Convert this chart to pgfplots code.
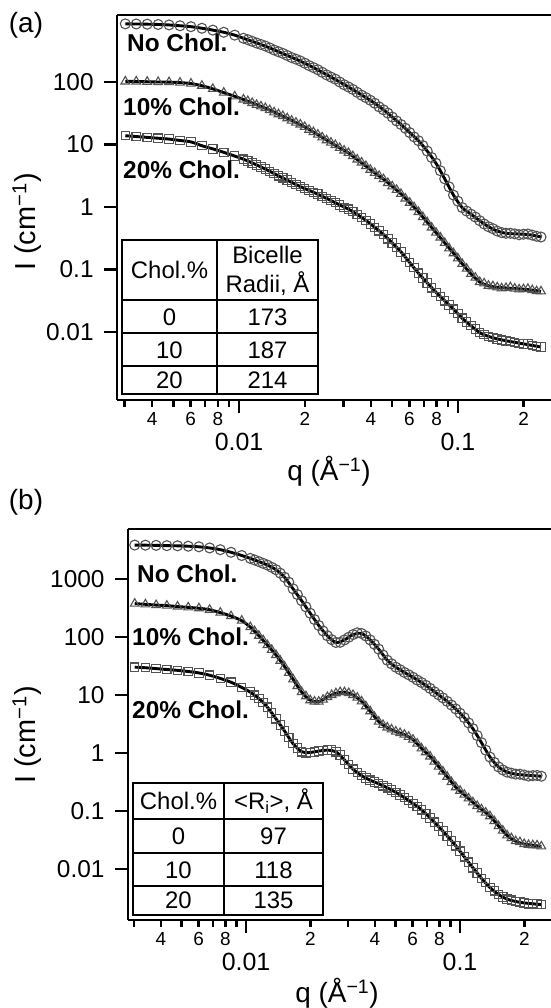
\documentclass[border=0pt]{standalone}
\usepackage{pgfplots}
\pgfplotsset{compat=1.18}
\usepackage{pgfplotstable}
\usepackage{fontspec}
\setmainfont{Liberation Sans}

% panel (a): fitted curves and data
\pgfplotstableread{
q a0 a10 a20
0.003020 851 102 13.8
0.003388 847 102 13.4
0.003802 841 101 13.0
0.004266 832 100 12.6
0.004786 818 99.5 12.2
0.005370 794 97.7 11.6
0.006026 767 94.4 11.0
0.006761 724 87.1 9.55
0.007586 676 77.6 8.51
0.008511 624 67.6 7.50
0.009550 562 58.9 6.53
0.010471 501 52.5 5.82
0.011482 447 46.2 5.07
0.012589 398 40.7 4.37
0.013804 351 35.5 3.72
0.015136 305 30.5 3.16
0.016596 266 26.3 2.69
0.018197 232 22.4 2.29
0.019953 200 19.1 1.97
0.021878 170 15.8 1.72
0.023988 143 13.0 1.48
0.026303 120 10.7 1.27
0.028840 100 8.81 1.08
0.031623 83.2 7.33 0.923
0.034674 68.4 5.75 0.759
0.038019 56.2 4.52 0.610
0.041687 45.7 3.51 0.473
0.045709 35.9 2.79 0.363
0.050119 27.5 2.14 0.266
0.054954 20.9 1.62 0.191
0.060256 15.5 1.17 0.129
0.066069 11.5 0.832 0.0871
0.072444 7.85 0.569 0.0610
0.079433 5.01 0.389 0.0432
0.087096 2.82 0.266 0.0316
0.095499 1.55 0.182 0.0232
0.10471 0.977 0.123 0.0166
0.11482 0.767 0.0851 0.0126
0.12589 0.603 0.0631 0.00977
0.13804 0.484 0.0550 0.00851
0.15136 0.412 0.0519 0.00776
0.16596 0.380 0.0507 0.00724
0.18197 0.372 0.0495 0.00684
0.19953 0.367 0.0484 0.00646
0.21878 0.355 0.0468 0.00610
0.23988 0.331 0.0447 0.00575
}\tabA

% panel (a): further data points
\pgfplotstableread{
q c0 c10 c20
0.010965 475 49.5 5.45
0.012023 420 43 4.68
0.013183 376 38.3 4.05
0.014454 325 32.7 3.41
0.015849 287 28.5 2.93
0.017378 246 24.1 2.47
0.019055 217 20.9 2.13
0.020893 183 17.2 1.83
0.022909 157 14.4 1.61
0.025119 130 11.7 1.36
0.027542 111 9.8 1.18
0.030200 90.5 8.0 0.99
0.033113 76 6.5 0.84
0.036308 61.5 5.15 0.68
0.039811 51 3.95 0.535
0.043652 40 3.15 0.416
0.047863 31.8 2.42 0.31
0.052481 23.8 1.88 0.226
0.057544 18.2 1.37 0.156
0.063096 13.2 0.99 0.107
0.069183 9.6 0.69 0.073
0.075858 6.2 0.47 0.051
0.083176 3.8 0.325 0.037
0.091201 2.1 0.218 0.027
0.1 1.24 0.151 0.0197
0.10965 0.86 0.103 0.0144
0.12023 0.69 0.074 0.0112
0.13183 0.535 0.060 0.0091
0.14454 0.45 0.054 0.0082
0.15849 0.39 0.050 0.0074
0.17378 0.38 0.052 0.0071
0.19055 0.36 0.048 0.0066
0.20893 0.37 0.049 0.0064
0.22909 0.34 0.045 0.0059
}\tabAm

% panel (b): fitted curves and data
\pgfplotstableread{
q b0 b10 b20
0.003020 3846 376 30.2
0.003388 3828 366 29.5
0.003802 3802 355 28.5
0.004266 3758 347 27.5
0.004786 3733 335 26.6
0.005370 3673 324 25.4
0.006026 3589 313 24.0
0.006761 3428 295 21.9
0.007586 3199 263 19.3
0.008511 2884 229 16.6
0.009550 2541 191 13.5
0.010471 2265 148 11.2
0.011482 1995 105 8.71
0.012589 1738 72.4 6.17
0.013804 1445 49.0 3.89
0.015136 1072 30.9 2.40
0.016596 676 18.6 1.45
0.018197 422 11.2 1.05
0.019953 257 8.13 1.02
0.021878 158 7.67 1.08
0.023988 105 9.23 1.12
0.026303 80.4 10.7 1.05
0.028840 89.1 11.2 0.759
0.031623 110 10.0 0.525
0.034674 115 7.76 0.407
0.038019 89.1 5.25 0.339
0.041687 61.7 3.47 0.295
0.045709 39.8 2.75 0.251
0.050119 30.2 2.34 0.209
0.054954 24.5 2.07 0.170
0.060256 20.2 1.70 0.135
0.066069 16.4 1.20 0.105
0.072444 13.0 0.871 0.0759
0.079433 10.1 0.582 0.0537
0.087096 7.76 0.389 0.0372
0.095499 5.75 0.257 0.0251
0.10471 4.07 0.191 0.0162
0.11482 2.63 0.141 0.0105
0.12589 1.51 0.107 0.00692
0.13804 0.851 0.0813 0.00479
0.15136 0.575 0.0550 0.00363
0.16596 0.468 0.0380 0.00302
0.18197 0.432 0.0302 0.00275
0.19953 0.417 0.0269 0.00260
0.21878 0.407 0.0257 0.00251
0.23988 0.398 0.0245 0.00243
}\tabB

% panel (b): further data points
\pgfplotstableread{
q d0 d10 d20
0.010965 2130 126 9.9
0.012023 1860 88 7.4
0.013183 1590 60 4.9
0.014454 1260 39 3.05
0.015849 880 24 1.85
0.017378 540 14.3 1.22
0.019055 330 9.5 1.00
0.020893 200 7.7 1.04
0.022909 127 8.3 1.11
0.025119 90 10.0 1.12
0.027542 81 11.2 0.92
0.030200 99 10.8 0.63
0.033113 118 9.0 0.46
0.036308 104 6.4 0.37
0.039811 75 4.2 0.318
0.043652 49 3.05 0.272
0.047863 34.5 2.55 0.23
0.052481 27.3 2.21 0.188
0.057544 22.3 1.90 0.152
0.063096 18.1 1.45 0.119
0.069183 14.7 1.03 0.089
0.075858 11.4 0.71 0.064
0.083176 8.9 0.48 0.045
0.091201 6.7 0.315 0.0305
0.1 4.85 0.223 0.0203
0.10965 3.3 0.165 0.0131
0.12023 2.0 0.122 0.0085
0.13183 1.12 0.094 0.0058
0.14454 0.69 0.067 0.0042
0.15849 0.51 0.046 0.0033
0.17378 0.45 0.034 0.0029
0.19055 0.43 0.029 0.0027
0.20893 0.40 0.026 0.0025
0.22909 0.41 0.0255 0.0025
}\tabBm

\newcommand\fyt{\fontsize{24.5}{26}\selectfont}
\newcommand\fxt{\fontsize{25}{27}\selectfont}
\newcommand\fmn{\fontsize{19}{20}\selectfont}
\newcommand\flab{\fontsize{28}{30}\selectfont}
\newcommand\fylab{\fontsize{29}{31}\selectfont}
\newcommand\fcur{\fontsize{24.5}{26}\selectfont\bfseries}
\newcommand\ftab{\fontsize{24}{26}\selectfont}

\pgfplotsset{
  mypanel/.style={
    scale only axis,
    axis x line*=box, axis y line*=left,
    tick pos=left,
    axis line style={-, line width=2.6bp, black},
    tick align=outside,
    major tick length=13bp, minor tick length=7bp,
    tick style={line width=2.6bp, black},
    yminorticks=false,
    xtick={0.01,0.1}, xticklabels={0.01,0.1},
    minor xtick={0.003,0.004,0.005,0.006,0.007,0.008,0.009,0.02,0.03,0.04,0.05,0.06,0.07,0.08,0.09,0.2},
    xticklabel style={font=\fxt, yshift=-17bp},
    yticklabel style={font=\fyt, xshift=-7bp},
    extra x ticks={0.004,0.006,0.008,0.02,0.04,0.06,0.08,0.2},
    extra x tick labels={4,6,8,2,4,6,8,2},
    extra x tick style={major tick length=7bp, xticklabel style={font=\fmn, yshift=15bp}},
    clip=false,
  },
  mydat/.style={only marks, mark size=5bp, black!68, mark options={line width=1.1bp, fill=none}},
  myfit/.style={black, line width=2.9bp, smooth, no marks},
}

\begin{document}
\begin{tikzpicture}
\useasboundingbox (0bp,0bp) rectangle (551bp,1008bp);

% ---------- panel (a)
\begin{loglogaxis}[mypanel, at={(117bp,608bp)}, anchor=south west, width=434bp, height=385bp,
  xmin=0.002767, xmax=0.2665, ymin=0.000817, ymax=1180,
  ytick={0.01,0.1,1,10,100}, yticklabels={0.01,0.1,1,10,100}]
\addplot[mydat, mark=o] table[x=q, y=a0] {\tabA};
\addplot[mydat, mark=o] table[x=q, y=c0] {\tabAm};
\addplot[mydat, mark=triangle] table[x=q, y=a10] {\tabA};
\addplot[mydat, mark=triangle] table[x=q, y=c10] {\tabAm};
\addplot[mydat, mark=square, mark size=4.2bp] table[x=q, y=a20] {\tabA};
\addplot[mydat, mark=square, mark size=4.2bp] table[x=q, y=c20] {\tabAm};
\addplot[myfit] table[x=q, y=a0] {\tabA};
\addplot[myfit] table[x=q, y=a10] {\tabA};
\addplot[myfit] table[x=q, y=a20] {\tabA};
\end{loglogaxis}

% ---------- panel (b)
\begin{loglogaxis}[mypanel, at={(128bp,88bp)}, anchor=south west, width=423bp, height=391bp,
  xmin=0.002809, xmax=0.2661, ymin=0.00132, ymax=7278,
  ytick={0.01,0.1,1,10,100,1000}, yticklabels={0.01,0.1,1,10,100,1000}]
\addplot[mydat, mark=o] table[x=q, y=b0] {\tabB};
\addplot[mydat, mark=o] table[x=q, y=d0] {\tabBm};
\addplot[mydat, mark=triangle] table[x=q, y=b10] {\tabB};
\addplot[mydat, mark=triangle] table[x=q, y=d10] {\tabBm};
\addplot[mydat, mark=square, mark size=4.2bp] table[x=q, y=b20] {\tabB};
\addplot[mydat, mark=square, mark size=4.2bp] table[x=q, y=d20] {\tabBm};
\addplot[myfit] table[x=q, y=b0] {\tabB};
\addplot[myfit] table[x=q, y=b10] {\tabB};
\addplot[myfit] table[x=q, y=b20] {\tabB};
\end{loglogaxis}

% panel letters and axis titles
\node[font=\flab] at (26bp,983bp) {(a)};
\node[font=\flab] at (26bp,506bp) {(b)};
\node[font=\flab] at (329bp,537bp) {q (Å\textsuperscript{−1})};
\node[font=\flab] at (337bp,15bp) {q (Å\textsuperscript{−1})};
\node[font=\fylab, rotate=90] at (27bp,786bp) {I (cm\textsuperscript{−1})};
\node[font=\fylab, rotate=90] at (27bp,273bp) {I (cm\textsuperscript{−1})};

% curve labels
\node[font=\fcur, anchor=west, inner sep=0pt] at (127bp,965bp) {No Chol.};
\node[font=\fcur, anchor=west, inner sep=0pt] at (123bp,901bp) {10\% Chol.};
\node[font=\fcur, anchor=west, inner sep=0pt] at (123bp,838bp) {20\% Chol.};
\node[font=\fcur, anchor=west, inner sep=0pt] at (137bp,434bp) {No Chol.};
\node[font=\fcur, anchor=west, inner sep=0pt] at (132bp,371bp) {10\% Chol.};
\node[font=\fcur, anchor=west, inner sep=0pt] at (132bp,298bp) {20\% Chol.};

% table (a)
\begin{scope}[line width=1.2bp]
\fill[white] (122bp,614bp) rectangle (318bp,768bp);
\draw (122bp,614bp) rectangle (318bp,768bp);
\draw (122bp,708bp) -- (318bp,708bp);
\draw (122bp,675bp) -- (318bp,675bp);
\draw (122bp,642bp) -- (318bp,642bp);
\draw (217bp,614bp) -- (217bp,768bp);
\end{scope}
\node[font=\ftab] at (169.5bp,738bp) {Chol.\%};
\node[font=\ftab] at (267.5bp,753bp) {Bicelle};
\node[font=\ftab] at (267.5bp,724bp) {Radii, Å};
\node[font=\ftab] at (169.5bp,691bp) {0};
\node[font=\ftab] at (267.5bp,691bp) {173};
\node[font=\ftab] at (169.5bp,658bp) {10};
\node[font=\ftab] at (267.5bp,658bp) {187};
\node[font=\ftab] at (169.5bp,628bp) {20};
\node[font=\ftab] at (267.5bp,628bp) {214};

% table (b)
\begin{scope}[line width=1.2bp]
\fill[white] (133bp,93bp) rectangle (323bp,225bp);
\draw (133bp,93bp) rectangle (323bp,225bp);
\draw (133bp,189bp) -- (323bp,189bp);
\draw (133bp,155bp) -- (323bp,155bp);
\draw (133bp,122bp) -- (323bp,122bp);
\draw (224bp,93bp) -- (224bp,225bp);
\end{scope}
\node[font=\ftab] at (178.5bp,207bp) {Chol.\%};
\node[font=\ftab] at (273.5bp,207bp) {<R\textsubscript{i}>, Å};
\node[font=\ftab] at (178.5bp,172bp) {0};
\node[font=\ftab] at (273.5bp,172bp) {97};
\node[font=\ftab] at (178.5bp,138bp) {10};
\node[font=\ftab] at (273.5bp,138bp) {118};
\node[font=\ftab] at (178.5bp,108bp) {20};
\node[font=\ftab] at (273.5bp,108bp) {135};
\end{tikzpicture}
\end{document}
